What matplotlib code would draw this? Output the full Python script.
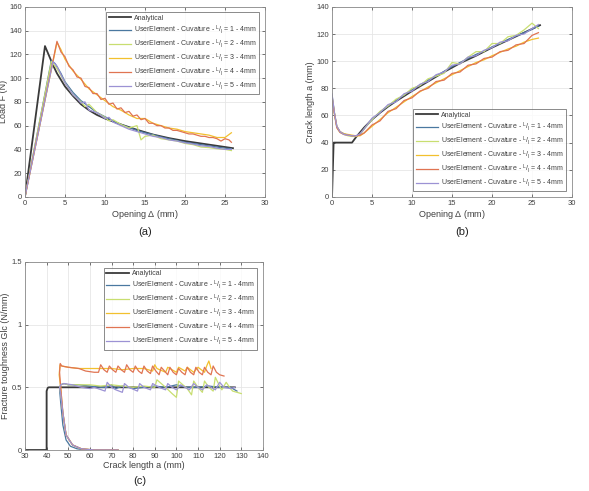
import matplotlib
matplotlib.use("Agg")
import matplotlib.pyplot as plt

plt.rcParams['font.family'] = ['Liberation Sans', 'DejaVu Sans']
plt.rcParams['mathtext.fontset'] = 'custom'
plt.rcParams['mathtext.rm'] = 'Liberation Sans'
plt.rcParams['mathtext.it'] = 'Liberation Sans'

# ---------------- data: (a) load vs opening ----------------
a_an_x = [0, 2.5, 3, 3.5, 4, 5, 6, 7, 8, 9, 10, 12, 14, 16, 18, 20, 22, 24, 26]
a_an_y = [0, 127, 119, 111, 104, 93, 85, 78, 73, 69, 66, 61, 56.5, 52.5, 49.5, 47, 45, 43, 41]

a1_x = [0, 3.3, 3.8, 4.5, 5, 6, 7, 8, 9, 10, 11, 12, 13, 14, 15, 16, 17, 18, 19, 20, 21, 22, 23, 24, 25, 25.8]
a1_y = [0, 115, 112, 104, 97, 88, 81, 76, 71, 67.5, 64, 61, 58.5, 56, 54, 52.5, 50.5, 49, 47.5, 46, 45, 44, 43, 42, 41, 40.5]

a2_x = [0, 3.3, 4, 5, 6, 7, 7.5, 8, 9, 10, 10.5, 11, 12, 13, 14, 14.5, 15, 16, 17, 18, 19, 20, 21, 22, 23, 24, 25, 25.8]
a2_y = [0, 114, 108, 96, 86, 80, 76, 78, 71, 67, 64, 65, 61, 58, 60, 48, 51, 52, 49, 48, 47, 45, 44, 42, 41.5, 40.5, 40, 39]

a3_x = [0, 4, 4.5, 5, 6, 7, 8, 9, 10, 11, 12, 13, 14, 15, 16, 17, 18, 19, 20, 21, 22, 23, 24, 25, 25.8]
a3_y = [0, 130, 124, 116, 106, 99, 91, 86, 81, 76, 73, 69, 66, 66, 62, 60, 58, 57, 55, 54, 53, 52, 50, 50, 54]

a4_x = [0, 4, 4.5, 5, 5.5, 6, 6.5, 7, 7.5, 8, 8.5, 9, 9.5, 10, 10.5, 11, 11.5, 12, 12.5, 13, 13.5, 14, 14.5,
        15, 15.5, 16, 16.5, 17, 17.5, 18, 18.5, 19, 19.5, 20, 20.5, 21, 21.5, 22, 22.5, 23, 23.5, 24, 24.5,
        25, 25.5, 25.8]
a4_y = [0, 131, 122, 118, 110, 107, 101, 100, 93, 92, 87, 87, 82, 83, 78, 79, 74, 75, 71, 72, 68, 69, 65,
        66, 62, 62, 60, 60, 58, 58, 56, 56, 55, 54, 53, 53, 52, 51, 51, 50, 50, 49, 47, 49, 48, 46]

a5_x = [0, 3.5, 4, 5, 6, 6.5, 7, 7.5, 8, 9, 10, 10.5, 11, 12, 13, 14, 15, 16, 17, 18, 19, 20, 21, 22, 23, 24, 25, 25.8]
a5_y = [0, 114, 110, 96, 86, 83, 79, 80, 73, 71, 66, 67, 63, 60, 57, 55, 53, 51, 50, 48, 47, 45.5, 44.5, 43, 42.5, 41, 40, 40]

# ---------------- data: (b) crack length vs opening ----------------
b_an_x = [0, 0.2, 0.25, 2.5, 3, 4, 5, 6, 7, 8, 10, 12, 14, 16, 18, 20, 22, 24, 26]
b_an_y = [0, 40, 40, 40, 44, 51, 57, 62, 66.5, 70.5, 78, 85, 92, 98.5, 104, 110, 115.5, 121, 126.5]

b_x = [0, 0.3, 0.6, 1, 1.5, 2, 2.5, 3, 3.5, 4, 5, 6, 7, 8, 9, 10, 11, 12, 13, 14, 15, 16,
       17, 18, 19, 20, 21, 22, 23, 24, 25, 25.8]
b1_y = [75, 62, 52, 48, 46.5, 45.5, 45, 45, 46, 50, 57, 62.5, 67, 71, 75, 79, 82.5, 86, 89, 92.5, 96, 99,
        102, 105, 107.5, 110.5, 113, 116, 118.5, 121, 123.5, 126]
b2_y = [74, 61, 51, 47.5, 46, 45, 44.5, 44.5, 46, 50, 57, 63, 67, 72, 75, 80, 82, 87, 89, 91, 99, 98,
        103, 107, 107, 113, 113, 118, 119, 123, 128, 124]
b3_y = [74, 62, 52, 48, 46.5, 46, 45.5, 45, 45, 47, 52, 57, 62, 66, 70, 74, 77.5, 81, 84, 87, 90, 93,
        96, 99, 101, 104, 106.5, 109, 111, 114, 116, 117]
b4_y = [73, 61, 51, 47.5, 46, 45.5, 45, 45, 45.5, 47, 53, 56, 63, 65, 71, 73, 78, 80, 85, 86, 91, 92,
        97, 98, 102, 103, 107, 108, 112, 113, 119, 121]
b5_y = [76, 62, 52, 48, 46, 45.5, 45, 45, 46.5, 50, 58, 62, 68, 70, 76, 78, 83, 85, 90, 92, 97, 98,
        103, 104, 108, 110, 114, 115, 119, 120, 124, 127]

# ---------------- data: (c) Glc vs crack length ----------------
c_an_x = [30, 40, 40, 40.5, 41, 127]
c_an_y = [0, 0, 0.47, 0.495, 0.5, 0.5]

c1_x = [73, 65, 58, 54, 51, 49, 47.5, 46.5, 46, 46.5, 48, 50, 55, 60, 65, 68, 70, 72, 75, 78, 80, 85, 90,
        95, 100, 105, 110, 115, 120, 125, 128]
c1_y = [0, 0, 0, 0.01, 0.03, 0.08, 0.2, 0.38, 0.48, 0.52, 0.53, 0.52, 0.52, 0.51, 0.5, 0.5, 0.52, 0.49,
        0.51, 0.5, 0.49, 0.5, 0.51, 0.5, 0.52, 0.5, 0.5, 0.51, 0.5, 0.5, 0.47]

c2_x = [73, 62, 56, 52, 49, 47.5, 46.5, 46, 46.5, 48, 50, 55, 60, 65, 70, 75, 80, 85, 90, 91, 95, 98, 100,
        101, 105, 107, 108, 110, 112, 113, 115, 117, 118, 120, 121, 123, 125, 126, 128, 130]
c2_y = [0, 0, 0.01, 0.04, 0.12, 0.3, 0.45, 0.5, 0.52, 0.53, 0.52, 0.52, 0.52, 0.51, 0.52, 0.51, 0.5, 0.51,
        0.5, 0.56, 0.5, 0.45, 0.42, 0.55, 0.49, 0.44, 0.55, 0.5, 0.46, 0.55, 0.5, 0.47, 0.58, 0.51, 0.48,
        0.54, 0.49, 0.47, 0.46, 0.45]

c3_x = [73, 62, 56, 52, 49, 47.5, 46.5, 45.8, 46.2, 47, 50, 55, 60, 65, 70, 75, 80, 85, 89, 90, 91, 95, 96,
        100, 101, 104, 105, 108, 110, 113, 114, 115, 116]
c3_y = [0, 0, 0.01, 0.04, 0.12, 0.3, 0.5, 0.6, 0.68, 0.67, 0.66, 0.65, 0.65, 0.65, 0.65, 0.64, 0.65, 0.65,
        0.63, 0.68, 0.65, 0.62, 0.66, 0.62, 0.66, 0.63, 0.66, 0.62, 0.66, 0.62, 0.67, 0.71, 0.65]

c4_x = [73, 62, 56, 52, 49, 47.5, 46.5, 46, 46.3, 47, 50, 55, 58, 62, 64, 65, 66.5, 68, 69, 70.5, 72, 73,
        74.5, 76, 77, 78.5, 80, 81, 82.5, 84, 85, 86.5, 88, 89, 90.5, 92, 93, 94.5, 96, 97, 98.5, 100,
        101, 102.5, 104, 105, 106.5, 108, 109, 110.5, 112, 113, 114.5, 116, 117, 118.5, 120, 122]
c4_y = [0, 0, 0.01, 0.04, 0.12, 0.3, 0.5, 0.62, 0.69, 0.67, 0.66, 0.65, 0.63, 0.62, 0.62, 0.68, 0.64,
        0.62, 0.67, 0.64, 0.62, 0.67, 0.64, 0.62, 0.68, 0.64, 0.62, 0.67, 0.63, 0.61, 0.67, 0.63, 0.61,
        0.67, 0.63, 0.6, 0.66, 0.63, 0.6, 0.66, 0.62, 0.6, 0.65, 0.62, 0.6, 0.66, 0.62, 0.6, 0.66, 0.62,
        0.6, 0.66, 0.62, 0.6, 0.67, 0.62, 0.6, 0.59]

c5_x = [73, 62, 56, 52, 49, 47.5, 46.5, 46, 46.5, 48, 52, 56, 60, 62, 67, 68, 70, 72, 75, 76, 78, 82, 83,
        85, 88, 89, 92, 95, 96, 98, 100, 102, 104, 106, 108, 110, 112, 114, 116, 118, 120, 122, 125, 127]
c5_y = [0, 0, 0.01, 0.04, 0.12, 0.3, 0.45, 0.5, 0.52, 0.53, 0.52, 0.5, 0.49, 0.5, 0.47, 0.54, 0.5, 0.48,
        0.46, 0.53, 0.5, 0.47, 0.53, 0.5, 0.48, 0.53, 0.5, 0.48, 0.53, 0.5, 0.48, 0.52, 0.5, 0.48, 0.53,
        0.5, 0.48, 0.52, 0.5, 0.48, 0.54, 0.5, 0.49, 0.5]

colors = ['#4a78a0', '#c8de70', '#f2c02e', '#e07452', '#9c92d4']
an_color = '#3a3a3a'
labels = ['Analytical'] + ['UserElement - Cuvature - $^{L}/_{l}$ = %d - 4mm' % i for i in range(1, 6)]

fig = plt.figure(figsize=(5.89, 4.91), dpi=100)


def style_axes(ax, xlabel, ylabel):
    ax.grid(True, color='#e6e6e6', linewidth=0.6)
    ax.set_axisbelow(True)
    ax.tick_params(direction='in', labelsize=5.5, colors='#404040', length=2, width=0.5,
                   top=True, right=True, pad=2)
    for s in ax.spines.values():
        s.set_color('#8a8a8a')
        s.set_linewidth(0.6)
    ax.set_xlabel(xlabel, fontsize=6.5, color='#404040', labelpad=1)
    ax.set_ylabel(ylabel, fontsize=6.5, color='#404040', labelpad=1)


def draw(ax, an, series, loc):
    ax.plot(an[0], an[1], color=an_color, lw=1.3, label=labels[0])
    for (x, y), c, lab in zip(series, colors, labels[1:]):
        ax.plot(x, y, color=c, lw=0.9, label=lab)
    leg = ax.legend(loc=loc, fontsize=5, frameon=True, fancybox=False, edgecolor='#555555',
                    handlelength=3.2, borderpad=0.35, labelspacing=0.22, handletextpad=0.5,
                    borderaxespad=0.8)
    leg.get_frame().set_linewidth(0.6)
    for t in leg.get_texts():
        t.set_color('#404040')


# (a)
ax_a = fig.add_axes([0.0424, 0.599, 0.4075, 0.387])
draw(ax_a, (a_an_x, a_an_y),
     [(a1_x, a1_y), (a2_x, a2_y), (a3_x, a3_y), (a4_x, a4_y), (a5_x, a5_y)], 'upper right')
ax_a.set_xlim(0, 30)
ax_a.set_ylim(0, 160)
ax_a.set_xticks(range(0, 31, 5))
ax_a.set_yticks(range(0, 161, 20))
style_axes(ax_a, 'Opening $\\Delta$ (mm)', 'Load F (N)')

# (b)
ax_b = fig.add_axes([0.5637, 0.599, 0.4075, 0.387])
draw(ax_b, (b_an_x, b_an_y),
     [(b_x, b1_y), (b_x, b2_y), (b_x, b3_y), (b_x, b4_y), (b_x, b5_y)], 'lower right')
ax_b.set_xlim(0, 30)
ax_b.set_ylim(0, 140)
ax_b.set_xticks(range(0, 31, 5))
ax_b.set_yticks(range(0, 141, 20))
style_axes(ax_b, 'Opening $\\Delta$ (mm)', 'Crack length a (mm)')

# (c)
ax_c = fig.add_axes([0.0424, 0.0835, 0.404, 0.383])
draw(ax_c, (c_an_x, c_an_y),
     [(c1_x, c1_y), (c2_x, c2_y), (c3_x, c3_y), (c4_x, c4_y), (c5_x, c5_y)], 'upper right')
ax_c.set_xlim(30, 140)
ax_c.set_ylim(0, 1.5)
ax_c.set_xticks(range(30, 141, 10))
ax_c.set_yticks([0, 0.5, 1, 1.5])
ax_c.set_yticklabels(['0', '0.5', '1', '1.5'])
style_axes(ax_c, 'Crack length a (mm)', 'Fracture toughness Glc (N/mm)')

fig.text(0.246, 0.527, '(a)', fontsize=8, ha='center', va='center', color='#222222')
fig.text(0.784, 0.527, '(b)', fontsize=8, ha='center', va='center', color='#222222')
fig.text(0.238, 0.02, '(c)', fontsize=8, ha='center', va='center', color='#222222')

fig.savefig('out.png', dpi=100)
